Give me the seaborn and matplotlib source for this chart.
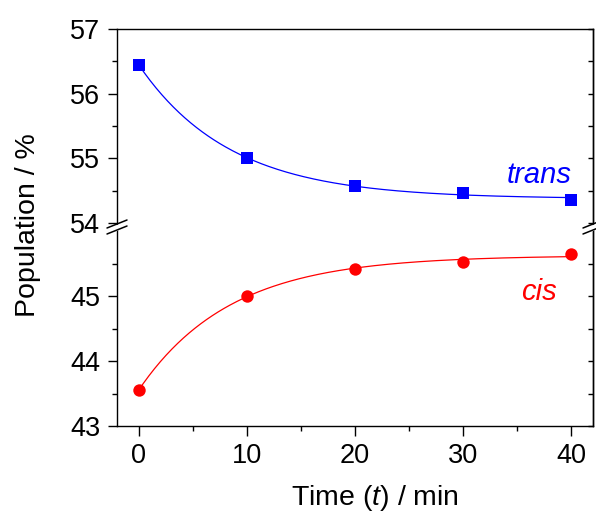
import numpy as np
import matplotlib
matplotlib.use("Agg")
import matplotlib.pyplot as plt
import seaborn as sns
from matplotlib.ticker import MultipleLocator, FixedLocator

# ---- data ----
time_min = [0, 10, 20, 30, 40]
trans_pop = [56.45, 55.00, 54.58, 54.47, 54.36]
cis_pop = [43.55, 45.00, 45.42, 45.53, 45.64]
top_ticks = [54, 55, 56, 57]
bottom_ticks = [43, 44, 45]
x_ticks = [0, 10, 20, 30, 40]

sns.set_theme(style="ticks")
plt.rcParams['font.family'] = ['Liberation Sans', 'DejaVu Sans']
plt.rcParams['mathtext.fontset'] = 'custom'
plt.rcParams['mathtext.it'] = 'Liberation Sans:italic'
plt.rcParams['mathtext.rm'] = 'Liberation Sans'
plt.rcParams['text.color'] = 'black'
plt.rcParams['xtick.color'] = 'black'
plt.rcParams['ytick.color'] = 'black'
plt.rcParams['axes.labelcolor'] = 'black'

FS = 19.5
LFS = 20.5


def exp_fit(t, y):
    t = np.asarray(t, float)
    y = np.asarray(y, float)
    best = None
    for k in np.linspace(0.005, 1.0, 4000):
        M = np.column_stack([np.ones_like(t), np.exp(-k * t)])
        coef, *_ = np.linalg.lstsq(M, y, rcond=None)
        r = np.sum((M @ coef - y) ** 2)
        if best is None or r < best[0]:
            best = (r, k, coef)
    _, k, coef = best
    tt = np.linspace(t.min(), t.max(), 300)
    return tt, coef[0] + coef[1] * np.exp(-k * tt)


fig = plt.figure(figsize=(5.96, 5.14), dpi=100)
W, H = 596, 514
left = 117 / W
width = (593 - 117) / W
ax_top = fig.add_axes([left, 1 - 227 / H, width, 198 / H])
ax_bot = fig.add_axes([left, 1 - 426 / H, width, 199 / H])

for ax in (ax_top, ax_bot):
    ax.set_facecolor('white')
    ax.set_xlim(-2, 42)
    for s in ax.spines.values():
        s.set_linewidth(1.0)
        s.set_color('black')

ax_top.set_ylim(57 - 198 / 64.7, 57)
ax_bot.set_ylim(43, 43 + 199 / 65.0)

# curves and markers
tt, yt = exp_fit(time_min, trans_pop)
sns.lineplot(x=tt, y=yt, ax=ax_top, color='#0000FF', lw=0.9)
sns.scatterplot(x=time_min, y=trans_pop, ax=ax_top, marker='s', s=70,
                color='#0000FF', linewidth=0, zorder=3)
tc, yc = exp_fit(time_min, cis_pop)
sns.lineplot(x=tc, y=yc, ax=ax_bot, color='#FF0000', lw=0.9)
sns.scatterplot(x=time_min, y=cis_pop, ax=ax_bot, marker='o', s=80,
                color='#FF0000', linewidth=0, zorder=3)

# spines
ax_top.spines['bottom'].set_visible(False)
ax_bot.spines['top'].set_visible(False)

# y ticks
for ax, ticks in ((ax_top, top_ticks), (ax_bot, bottom_ticks)):
    ax.yaxis.set_major_locator(FixedLocator(ticks))
    ax.yaxis.set_minor_locator(FixedLocator([v + 0.5 for v in ticks if v + 0.5 < ax.get_ylim()[1]]))
    ax.set_yticklabels([str(v) for v in ticks], fontsize=FS)
    ax.tick_params(axis='y', which='major', direction='out', length=6.5, width=1.0,
                   left=True, right=False, pad=5.5, colors='black')
    ax.tick_params(axis='y', which='minor', direction='out', length=3.6, width=1.0,
                   left=True, right=False)
    sec = ax.secondary_yaxis('right')
    sec.yaxis.set_major_locator(FixedLocator(ticks))
    sec.yaxis.set_minor_locator(FixedLocator([v + 0.5 for v in ticks if v + 0.5 < ax.get_ylim()[1]]))
    sec.tick_params(axis='y', which='both', direction='in', length=3.6, width=1.0,
                    labelright=False, colors='black')
    sec.spines['right'].set_linewidth(1.0)
    sec.spines['right'].set_color('black')
    ax.set_ylabel('')
    ax.set_xlabel('')

# x ticks
ax_top.tick_params(axis='x', which='both', bottom=False, top=False, labelbottom=False)
ax_bot.xaxis.set_major_locator(FixedLocator(x_ticks))
ax_bot.xaxis.set_minor_locator(MultipleLocator(5))
ax_bot.set_xticklabels([str(v) for v in x_ticks], fontsize=FS)
ax_bot.tick_params(axis='x', which='major', direction='out', length=7, width=1.0,
                   bottom=True, top=False, pad=5, colors='black')
ax_bot.tick_params(axis='x', which='minor', direction='out', length=3.6, width=1.0,
                   bottom=True, top=False)

# series labels
ax_top.text(37.0, 54.74, 'trans', color='#0000FF', fontsize=21, style='italic',
            ha='center', va='center')
ax_bot.text(37.0, 45.06, 'cis', color='#FF0000', fontsize=21, style='italic',
            ha='center', va='center')

# axis labels
fig.text(28 / W, 1 - 225 / H, 'Population / %', rotation=90, fontsize=LFS,
         ha='center', va='center', color='black')
fig.text(375 / W, 1 - 498 / H, 'Time ($\\it{t}$) / min', fontsize=LFS,
         ha='center', va='center', color='black')

# break marks
for xc in (117, 593):
    poly = plt.Polygon([[(xc - 7) / W, 1 - (227 + 1) / H], [(xc + 7) / W, 1 - (227 - 5) / H],
                        [(xc + 7) / W, 1 - (227 + 1) / H], [(xc - 7) / W, 1 - (227 + 7) / H]],
                       closed=True, facecolor='white', edgecolor='none',
                       transform=fig.transFigure, zorder=5)
    fig.add_artist(poly)
    for dy in (-3, 3):
        y0 = 227 + dy
        fig.add_artist(plt.Line2D([(xc - 10) / W, (xc + 10) / W],
                                  [1 - (y0 + 4) / H, 1 - (y0 - 4) / H],
                                  color='black', lw=1.1, transform=fig.transFigure,
                                  zorder=6))

fig.savefig('out.png', dpi=100, facecolor='white')
